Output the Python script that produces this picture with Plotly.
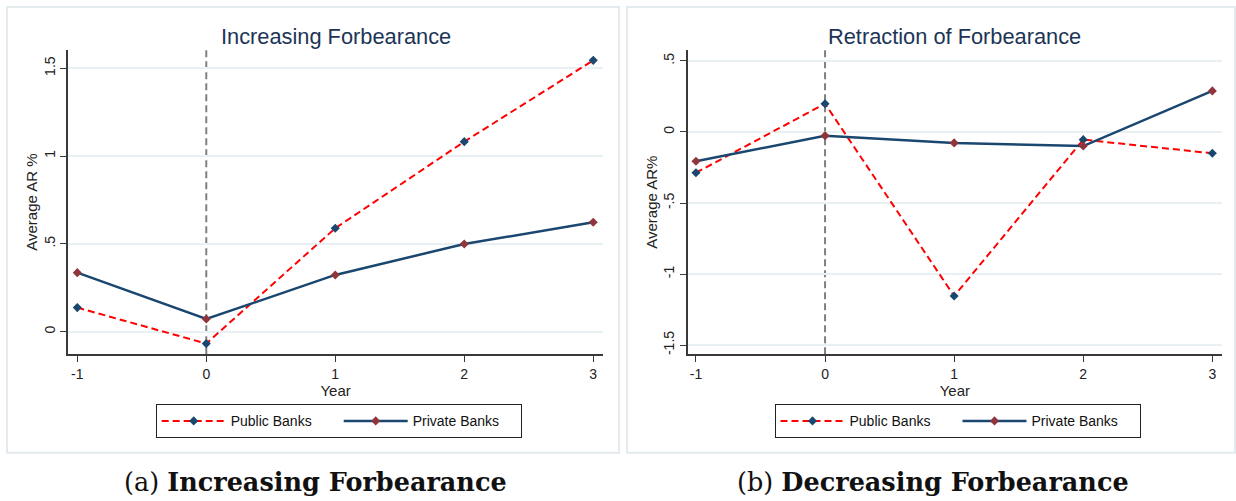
import plotly.graph_objects as go

W, H = 1236, 501

# ---------------- data ----------------
years = [-1, 0, 1, 2, 3]
year_ticks = ["-1", "0", "1", "2", "3"]

inc_public = [0.137, -0.068, 0.589, 1.082, 1.545]
inc_private = [0.336, 0.072, 0.323, 0.499, 0.623]

ret_public = [-0.287, 0.199, -1.155, -0.054, -0.150]
ret_private = [-0.206, -0.026, -0.077, -0.099, 0.289]

inc_yticks = [0, 0.5, 1, 1.5]
inc_yticklabels = ["0", ".5", "1", "1.5"]
ret_yticks = [-1.5, -1, -0.5, 0, 0.5]
ret_yticklabels = ["-1.5", "-1", "-.5", "0", ".5"]

event_year = 0
series_names = ["Public Banks", "Private Banks"]
panel_titles = ["Increasing Forbearance", "Retraction of Forbearance"]
y_titles = ["Average AR %", "Average AR%"]
captions = [("(a) ", "Increasing Forbearance"), ("(b) ", "Decreasing Forbearance")]

# ---------------- styles ----------------
RED = "#ff0000"
NAVY = "#1a476f"
MAROON = "#90353b"
AXIS = "#3a3a3a"
GRID = "#e9f0f3"
TITLE_C = "#1c3557"
FONT = "Liberation Sans, Arial, sans-serif"


def px_x(p):
    return p / W


def px_y(p):
    return 1 - p / H


fig = go.Figure()

panels = [
    dict(xa="x", ya="y", leg="legend", pub=inc_public, prv=inc_private),
    dict(xa="x2", ya="y2", leg="legend2", pub=ret_public, prv=ret_private),
]

for p in panels:
    fig.add_trace(go.Scatter(
        x=years, y=p["pub"], name=series_names[0], mode="lines+markers",
        line=dict(color=RED, width=2, dash="7px,4px"),
        marker=dict(symbol="diamond", size=7, color=NAVY),
        xaxis=p["xa"], yaxis=p["ya"], legend=p["leg"]))
    fig.add_trace(go.Scatter(
        x=years, y=p["prv"], name=series_names[1], mode="lines+markers",
        line=dict(color=NAVY, width=2.5),
        marker=dict(symbol="diamond", size=7, color=MAROON),
        xaxis=p["xa"], yaxis=p["ya"], legend=p["leg"]))

x_common = dict(
    tickvals=years, ticktext=year_ticks, showline=True, linecolor=AXIS,
    linewidth=1.5, ticks="outside", ticklen=6, tickcolor=AXIS, tickwidth=1.2,
    showgrid=False, zeroline=False, automargin=False,
    tickfont=dict(family=FONT, size=14, color="#222"),
    title=dict(text="Year", font=dict(family=FONT, size=15, color="#222"), standoff=2),
)
y_common = dict(
    showline=True, linecolor=AXIS, linewidth=1.5, ticks="outside", ticklen=6,
    tickcolor=AXIS, tickwidth=1.2, showgrid=True, gridcolor=GRID, gridwidth=1.5,
    zeroline=False, tickangle=-90, automargin=False,
    tickfont=dict(family=FONT, size=14, color="#222"),
)

ydom = [px_y(354.3), px_y(50)]

legend_common = dict(
    orientation="h", xanchor="left", yanchor="top", y=px_y(404.3),
    bordercolor="#222", borderwidth=1, bgcolor="white",
    font=dict(family=FONT, size=14, color="#111"),
    itemwidth=64, entrywidth=103, entrywidthmode="pixels",
)

fig.update_layout(
    width=W, height=H, autosize=False, margin=dict(l=0, r=0, t=0, b=0, pad=0),
    paper_bgcolor="white", plot_bgcolor="white",
    xaxis=dict(domain=[px_x(68), px_x(603.3)], range=[-1.072, 3.078], anchor="y", **x_common),
    yaxis=dict(domain=ydom, range=[-0.129, 1.604], anchor="x",
               tickvals=inc_yticks, ticktext=inc_yticklabels,
               title=dict(text=y_titles[0], font=dict(family=FONT, size=15, color="#222"), standoff=0),
               **y_common),
    xaxis2=dict(domain=[px_x(687.7), px_x(1222)], range=[-1.064, 3.075], anchor="y2", **x_common),
    yaxis2=dict(domain=ydom, range=[-1.565, 0.577], anchor="x2",
                tickvals=ret_yticks, ticktext=ret_yticklabels,
                title=dict(text=y_titles[1], font=dict(family=FONT, size=15, color="#222"), standoff=0),
                **y_common),
    legend=dict(x=px_x(155.7), **legend_common),
    legend2=dict(x=px_x(774.5), **legend_common),
)

# event reference lines at year 0
for xa, ya in [("x", "y"), ("x2", "y2")]:
    fig.add_shape(type="line", xref=xa, yref=f"{ya} domain",
                  x0=event_year, x1=event_year, y0=0, y1=1,
                  line=dict(color="#808080", width=2, dash="7px,4px"), layer="below")

# panel frames
for (l, r) in [(7, 619), (627, 1235)]:
    fig.add_shape(type="rect", xref="paper", yref="paper",
                  x0=px_x(l), x1=px_x(r), y0=px_y(452.7), y1=px_y(7),
                  line=dict(color="#e4ebee", width=2), layer="below")

# panel titles
for t, cx in zip(panel_titles, [335.7, 954.9]):
    fig.add_annotation(text=t, xref="paper", yref="paper", x=px_x(cx), y=px_y(36),
                       xanchor="center", yanchor="middle", showarrow=False,
                       font=dict(family=FONT, size=21.8, color=TITLE_C))

# captions
for (a, b), cx in zip(captions, [315.4, 932.6]):
    fig.add_annotation(text=f"{a}<b>{b}</b>", xref="paper", yref="paper",
                       x=px_x(cx), y=px_y(482), xanchor="center", yanchor="middle",
                       showarrow=False,
                       font=dict(family="DejaVu Serif, serif", size=25.5, color="#111"))

fig.write_html("out.html")
